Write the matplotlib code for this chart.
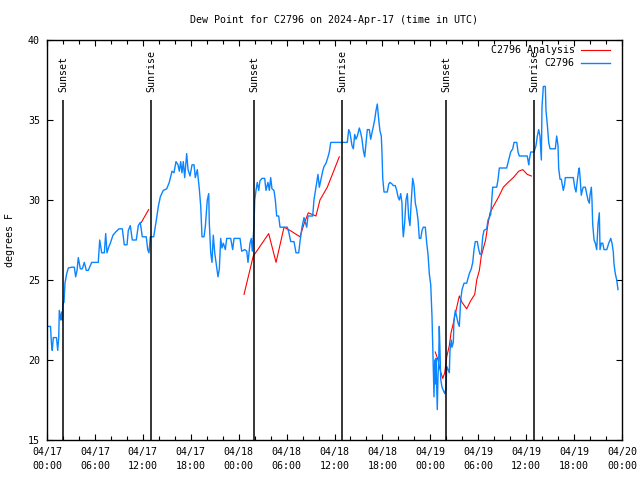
import datetime
import matplotlib
matplotlib.use('Agg')
import matplotlib.pyplot as plt
import matplotlib.dates as mdates
import numpy as np

# observations (hours after 2024-04-17 00:00 UTC, dew point F)
obs_hours = [0.13, 0.44, 0.56, 0.66, 0.79, 1.19, 1.34, 1.47, 1.54, 1.72, 1.84, 1.92, 2.00, 2.13,
             2.25, 2.47, 2.67, 3.09, 3.42, 3.59, 3.76, 3.92, 4.17, 4.42, 4.67, 4.92, 5.17, 5.60,
             6.42, 6.60, 6.85, 7.18, 7.35, 7.51, 7.76, 7.93, 8.26, 8.60, 9.02, 9.43, 9.68, 10.02,
             10.18, 10.43, 10.68, 11.18, 11.43, 11.68, 11.93, 12.43, 12.61, 12.77, 12.94, 13.36,
             13.69, 13.94, 14.19, 14.56, 14.99, 15.31, 15.65, 15.90, 16.15, 16.40, 16.57, 16.74,
             16.90, 17.07, 17.24, 17.49, 17.66, 17.91, 18.16, 18.41, 18.57, 18.82, 19.07, 19.25,
             19.41, 19.66, 19.82, 20.07, 20.25, 20.32, 20.50, 20.66, 20.82, 21.00, 21.25, 21.41,
             21.58, 21.75, 21.91, 22.08, 22.33, 22.50, 23.00, 23.25, 23.42, 24.17, 24.38, 24.76,
             25.01, 25.17, 25.42, 25.58, 25.71, 25.92, 26.01, 26.17, 26.33, 26.51, 26.67, 26.92,
             27.26, 27.42, 27.67, 27.84, 28.01, 28.17, 28.42, 28.59, 28.76, 29.01, 29.18, 30.09,
             30.27, 30.52, 30.93, 31.18, 31.52, 31.68, 31.93, 32.18, 32.52, 32.68, 33.27, 33.43,
             33.68, 33.93, 34.10, 34.35, 34.52, 34.69, 34.94, 35.19, 35.35, 35.53, 37.60, 37.78,
             37.94, 38.19, 38.36, 38.53, 38.69, 38.86, 39.11, 39.28, 39.44, 39.61, 39.78, 39.95,
             40.11, 40.36, 40.53, 40.70, 40.86, 41.03, 41.20, 41.36, 41.54, 41.70, 41.86, 41.95,
             42.04, 42.20, 42.61, 42.79, 42.95, 43.20, 43.36, 43.61, 43.79, 43.95, 44.12, 44.29,
             44.45, 44.54, 44.62, 44.79, 44.95, 45.12, 45.29, 45.45, 45.62, 45.79, 45.96, 46.12,
             46.29, 46.46, 46.62, 46.80, 46.96, 47.12, 47.37, 47.55, 47.71, 47.87, 48.05, 48.21,
             48.37, 48.46, 48.55, 48.62, 48.71, 48.80, 48.87, 48.96, 49.05, 49.12, 49.21, 49.30,
             49.46, 49.63, 49.80, 49.96, 50.05, 50.21, 50.38, 50.46, 50.63, 50.71, 50.88, 50.96,
             51.13, 51.30, 51.47, 51.63, 51.80, 51.97, 52.22, 52.55, 52.72, 52.88, 53.13, 53.31,
             53.47, 53.63, 53.88, 54.06, 54.22, 54.38, 54.56, 54.72, 55.06, 55.22, 55.38, 55.56,
             55.72, 55.81, 56.31, 56.47, 56.64, 57.56, 57.81, 58.06, 58.32, 58.48, 58.82, 58.98,
             59.14, 60.14, 60.32, 60.39, 60.57, 60.98, 61.23, 61.40, 61.57, 61.73, 61.90, 61.98,
             62.15, 62.40, 62.48, 62.65, 62.82, 62.99, 63.65, 63.82, 63.99, 64.07, 64.24, 64.40,
             64.58, 64.65, 64.82, 64.90, 65.90, 66.08, 66.24, 66.40, 66.58, 66.65, 66.74, 66.90,
             67.08, 67.16, 67.41, 67.58, 67.74, 67.91, 67.99, 68.16, 68.24, 68.33, 68.50, 68.66,
             68.83, 69.00, 69.16, 69.25, 69.41, 69.59, 69.75, 70.09, 70.34, 70.59, 70.75, 70.91,
             71.00, 71.16, 71.34, 71.50]
obs_dewp = [22.1, 22.1, 21.0, 20.6, 21.4, 21.4, 20.6, 21.4, 23.1, 22.5, 23.0, 22.5, 23.6, 23.6,
            24.8, 25.4, 25.75, 25.8, 25.8, 25.2, 25.6, 26.4, 25.7, 25.7, 26.1, 25.6, 25.6, 26.1,
            26.1, 27.5, 26.7, 26.7, 27.9, 26.7, 27.1, 27.3, 27.8, 28.0, 28.2, 28.2, 27.2, 27.2,
            28.1, 28.4, 27.5, 27.5, 28.4, 28.6, 27.7, 27.7, 26.9, 26.7, 27.7, 27.7,
            28.75, 29.6, 30.2, 30.6, 30.7, 31.1, 31.8, 31.7, 32.4, 32.2, 31.8, 32.4,
            31.7, 32.4, 31.4, 32.9, 31.9, 31.5, 32.2, 32.2, 31.4, 31.9, 30.7, 29.6,
            27.7, 27.7, 28.3, 30.0, 30.4, 28.6, 26.7, 26.1, 27.8, 26.7, 25.8, 25.2,
            25.7, 27.6, 27.0, 27.3, 26.9, 27.6, 27.6, 26.9, 27.6, 27.6, 26.8, 26.9,
            26.8, 26.1, 27.3, 27.6, 26.8, 28.4, 30.0, 30.6, 31.1, 30.6, 31.2, 31.35,
            31.35, 30.6, 31.1, 30.6, 31.4, 30.7, 30.6, 30.0, 29.0, 29.0, 28.3, 28.3,
            28.0, 27.4, 27.4, 26.7, 26.7, 27.4, 28.3, 28.9, 28.3, 29.0, 29.0, 30.0,
            30.8, 31.6, 30.8, 31.4, 31.8, 32.1, 32.3, 32.7, 33.0, 33.6, 33.6, 34.4,
            34.2, 33.4, 33.2, 34.1, 33.8, 34.0, 34.5, 34.2, 33.8, 33.1, 32.7, 33.6,
            34.4, 34.4, 33.8, 34.2, 34.6, 35.0, 35.6, 36.0, 35.0, 34.3, 34.0, 32.9,
            31.35, 30.5, 30.5, 31.0, 31.1, 31.0, 30.9, 30.9, 30.6, 30.2, 30.0, 30.4,
            29.8, 28.3, 27.7, 28.6, 30.0, 30.4, 28.9, 28.4, 30.0, 31.35, 30.9, 29.8,
            29.4, 28.75, 27.6, 27.6, 28.1, 28.3, 28.3, 27.3, 26.6, 25.4, 24.7, 22.7,
            19.4, 17.7, 20.0, 18.5, 20.1, 18.3, 16.9, 19.0, 20.0, 22.1, 20.6, 18.8,
            18.3, 18.1, 17.9, 18.2, 19.6, 19.4, 19.2, 20.6, 21.25, 20.8, 21.1, 22.5,
            23.1, 22.7, 22.3, 22.1, 23.75, 24.4, 24.8, 24.8, 25.1, 25.4, 25.7, 26.1,
            26.9, 27.4, 27.4, 26.9, 26.6, 26.6, 27.7, 28.1, 28.2, 28.75, 28.9, 29.1,
            30.2, 30.8, 30.8, 31.25, 32.0, 32.0, 32.5, 33.0, 33.2, 33.6, 33.6, 33.0,
            32.75, 32.75, 32.2, 32.5, 33.0, 33.0, 33.4, 34.0, 34.4, 34.0, 32.5, 35.8,
            37.1, 37.1, 35.6, 34.7, 33.6, 33.2, 33.2, 34.0, 33.4, 32.0, 31.3, 31.3,
            30.8, 30.6, 31.0, 31.4, 31.4, 30.8, 30.5, 31.2, 31.9, 32.0, 31.5, 30.3,
            30.7, 30.8, 30.8, 30.4, 30.0, 29.8, 30.3, 30.8, 30.0, 28.5, 27.5, 27.3,
            26.9, 28.5, 29.2, 26.9, 27.3, 27.3, 26.9, 26.9, 27.3, 27.6, 27.3, 26.75,
            26.0, 25.4, 25.0, 24.4]

# analysis (NaN = gap)
ana_hours = [11.81, 12.73, 12.9,
             24.67, 25.83, 26.26, 27.76, 28.68, 29.68, 30.43, 31.68, 32.18, 32.72, 33.68, 34.18,
             35.10, 36.60, 36.8,
             48.62, 48.96, 49.21, 49.55, 49.80, 50.05, 50.38, 50.59, 50.88, 51.22, 51.63, 51.97,
             52.55, 53.05, 53.56, 53.81, 54.14, 54.38, 54.92, 55.22, 55.47, 55.89, 56.56, 57.14,
             57.73, 58.39, 59.07, 59.57, 60.14, 60.65]
ana_dewp = [28.6, 29.4, np.nan,
            24.1, 26.5, 26.8, 27.9, 26.1, 28.3, 28.1, 27.7, 28.5, 29.2, 29.0, 30.0,
            30.8, 32.7, np.nan,
            20.5, 20.0, 19.4, 18.85, 19.2, 20.2, 20.9, 21.7, 22.3, 23.1, 24.0, 23.6,
            23.2, 23.7, 24.1, 25.0, 25.6, 26.5, 27.5, 28.5, 29.2, 29.6, 30.2, 30.8,
            31.1, 31.4, 31.8, 31.9, 31.6, 31.5]

event_hours = [2.00, 13.02, 25.92, 36.94, 49.96, 60.98]
event_labels = ['Sunset', 'Sunrise', 'Sunset', 'Sunrise', 'Sunset', 'Sunrise']

start = datetime.datetime(2024, 4, 17)
def to_time(hrs):
    return [start + datetime.timedelta(hours=h) for h in hrs]

plt.rcParams['font.family'] = ['DejaVu Sans Mono']
plt.rcParams['font.size'] = 7.2

fig = plt.figure(figsize=(6.4, 4.8), dpi=100)
ax = fig.add_axes([47/640., 40/480., 575/640., 400/480.])

ax.plot(to_time(ana_hours), ana_dewp, color='#ff0000', lw=0.8)
ax.plot(to_time(obs_hours), obs_dewp, color='#0a84ff', lw=1.0)

ev_t = to_time(event_hours)
ax.vlines(ev_t, 15, 36.25, color='black', lw=1.1)
for t, lab in zip(ev_t, event_labels):
    ax.text(t, 36.75, lab, rotation=90, ha='center', va='bottom')

ax.set_xlim(start, start + datetime.timedelta(days=3))
ax.set_ylim(15, 40)
ax.set_yticks([15, 20, 25, 30, 35, 40])
ax.xaxis.set_major_locator(mdates.HourLocator(byhour=[0, 6, 12, 18]))
ax.xaxis.set_minor_locator(mdates.HourLocator(interval=2))
ax.xaxis.set_major_formatter(mdates.DateFormatter('%m/%d\n%H:%M'))
ax.tick_params(which='both', direction='in', top=True, right=True, width=0.8)
ax.tick_params(which='major', length=4.2)
ax.tick_params(which='minor', length=2.6)
ax.tick_params(axis='x', pad=5)
ax.tick_params(axis='y', pad=5)
for s in ax.spines.values():
    s.set_linewidth(1.0)
fig.canvas.draw()
for lbl in ax.get_xticklabels():
    lbl.set_linespacing(1.5)

ax.set_title('Dew Point for C2796 on 2024-Apr-17 (time in UTC)', pad=12, fontsize=7.2)
fig.text(10/640., 0.5, 'degrees F', rotation=90, ha='center', va='center')

# key, top right
ax.text(0.918, 0.975, 'C2796 Analysis', transform=ax.transAxes, ha='right', va='center')
ax.plot([0.929, 0.979], [0.975, 0.975], transform=ax.transAxes, color='#ff0000', lw=0.8)
ax.text(0.918, 0.9425, 'C2796', transform=ax.transAxes, ha='right', va='center')
ax.plot([0.929, 0.979], [0.9425, 0.9425], transform=ax.transAxes, color='#0a84ff', lw=1.0)

fig.savefig('out.png', dpi=100)
